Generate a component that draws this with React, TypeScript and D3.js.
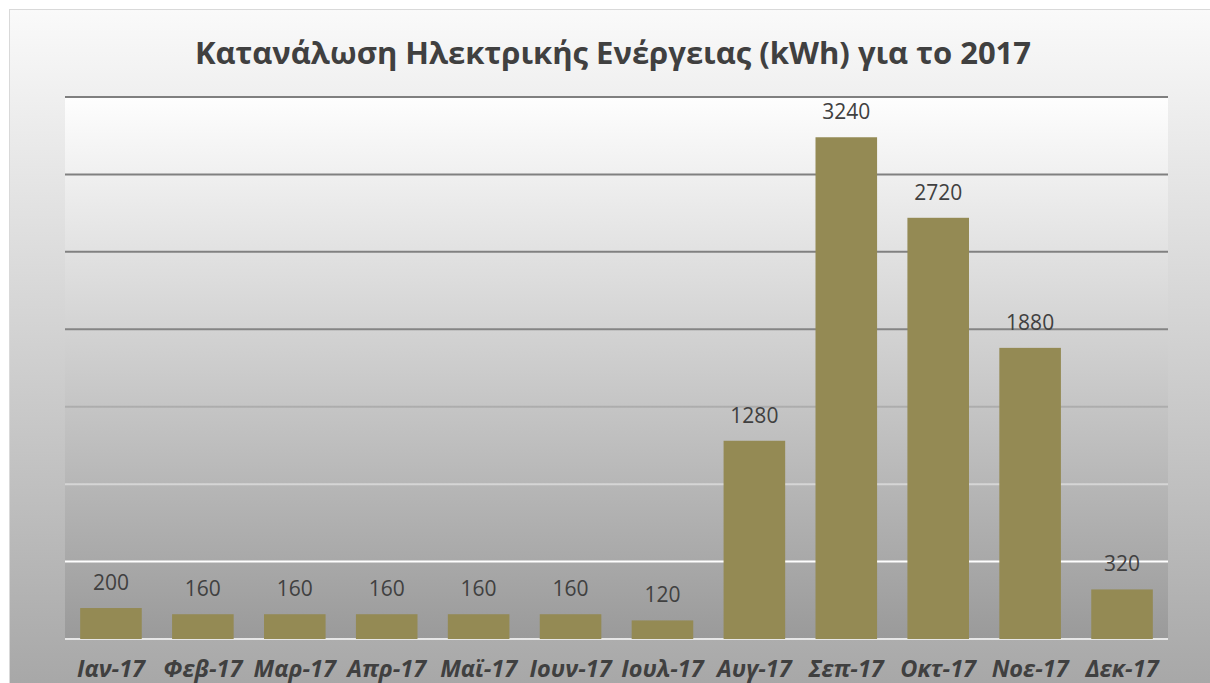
import React, { useEffect, useRef } from 'react'
import * as d3 from 'd3'

const months = ['Ιαν-17', 'Φεβ-17', 'Μαρ-17', 'Απρ-17', 'Μαϊ-17', 'Ιουν-17', 'Ιουλ-17', 'Αυγ-17', 'Σεπ-17', 'Οκτ-17', 'Νοε-17', 'Δεκ-17']
const kwh = [200, 160, 160, 160, 160, 160, 120, 1280, 3240, 2720, 1880, 320]
const gridTicks = [0, 500, 1000, 1500, 2000, 2500, 3000, 3500]
const title = 'Κατανάλωση Ηλεκτρικής Ενέργειας (kWh) για το 2017'

export default function App() {
  const ref = useRef<SVGSVGElement | null>(null)

  useEffect(() => {
    const width = 1210
    const height = 683
    const plot = { left: 65, right: 1168, top: 97, bottom: 639 }
    const svg = d3.select(ref.current!)
    svg.selectAll('*').remove()

    const defs = svg.append('defs')
    const outerGrad = defs.append('linearGradient').attr('id', 'outerBg').attr('x1', 0).attr('y1', 0).attr('x2', 0).attr('y2', 1)
    outerGrad.append('stop').attr('offset', '0%').attr('stop-color', '#fafafa')
    outerGrad.append('stop').attr('offset', '100%').attr('stop-color', '#a4a4a4')

    const plotGrad = defs.append('linearGradient').attr('id', 'plotBg').attr('x1', 0).attr('y1', 0).attr('x2', 0).attr('y2', 1)
    plotGrad.append('stop').attr('offset', '0%').attr('stop-color', '#fefefe')
    plotGrad.append('stop').attr('offset', '100%').attr('stop-color', '#9a9a9a')

    // gridlines go from dark grey at top to near white at the bottom
    const gridGrad = defs.append('linearGradient').attr('id', 'gridStroke')
      .attr('gradientUnits', 'userSpaceOnUse').attr('x1', 0).attr('y1', plot.top).attr('x2', 0).attr('y2', plot.bottom)
    gridGrad.append('stop').attr('offset', '0%').attr('stop-color', '#7f7f7f')
    gridGrad.append('stop').attr('offset', '42%').attr('stop-color', '#828282')
    gridGrad.append('stop').attr('offset', '86%').attr('stop-color', '#ffffff')
    gridGrad.append('stop').attr('offset', '100%').attr('stop-color', '#e6e6e6')

    svg.append('rect').attr('x', 9.5).attr('y', 9.5).attr('width', width + 20).attr('height', height + 20)
      .attr('fill', 'url(#outerBg)').attr('stroke', '#d9d9d9').attr('stroke-width', 1)

    svg.append('rect').attr('x', plot.left).attr('y', plot.top)
      .attr('width', plot.right - plot.left).attr('height', plot.bottom - plot.top)
      .attr('fill', 'url(#plotBg)')

    const x = d3.scaleBand<string>().domain(months).range([plot.left, plot.right]).paddingInner(0.33).paddingOuter(0.165)
    const y = d3.scaleLinear().domain([0, 3500]).range([plot.bottom, plot.top])

    svg.append('g').selectAll('line').data(gridTicks).enter().append('line')
      .attr('x1', plot.left).attr('x2', plot.right)
      .attr('y1', d => y(d)).attr('y2', d => y(d))
      .attr('stroke', 'url(#gridStroke)').attr('stroke-width', 2)

    const g = svg.append('g')
    g.selectAll('rect').data(months).enter().append('rect')
      .attr('x', d => x(d) ?? 0)
      .attr('y', (_, i) => y(kwh[i]))
      .attr('width', x.bandwidth())
      .attr('height', (_, i) => y(0) - y(kwh[i]))
      .attr('fill', '#948a54')

    g.selectAll('text.val').data(months).enter().append('text')
      .attr('class', 'val')
      .attr('x', d => (x(d) ?? 0) + x.bandwidth() / 2)
      .attr('y', (_, i) => y(kwh[i]) - 18)
      .attr('text-anchor', 'middle')
      .attr('font-family', '"Open Sans", sans-serif')
      .attr('font-size', 21)
      .attr('fill', '#404040')
      .text((_, i) => String(kwh[i]))

    g.selectAll('text.cat').data(months).enter().append('text')
      .attr('class', 'cat')
      .attr('x', d => (x(d) ?? 0) + x.bandwidth() / 2)
      .attr('y', 677)
      .attr('text-anchor', 'middle')
      .attr('font-family', '"Open Sans", sans-serif')
      .attr('font-size', 23.5)
      .attr('font-weight', 700)
      .attr('font-style', 'italic')
      .attr('fill', '#404040')
      .text(d => d)

    svg.append('text').attr('x', 613).attr('y', 64)
      .attr('text-anchor', 'middle')
      .attr('font-family', '"Open Sans", sans-serif')
      .attr('font-size', 31)
      .attr('font-weight', 700)
      .attr('fill', '#404040')
      .text(title)
  }, [])

  return (
    <svg ref={ref} width={1210} height={683}
      style={{ position: 'absolute', left: 0, top: 0, display: 'block' }} />
  )
}
